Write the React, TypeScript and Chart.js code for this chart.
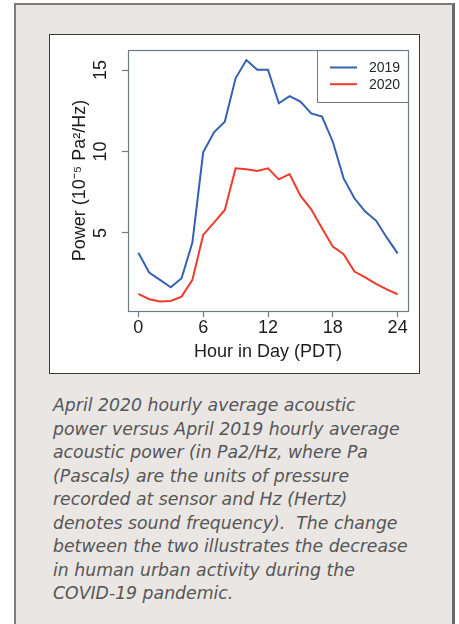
import React, { useEffect, useRef } from "react";
import { Chart, registerables } from "chart.js";

Chart.register(...registerables);

// ---- data ----
const hours = [0, 1, 2, 3, 4, 5, 6, 7, 8, 9, 10, 11, 12, 13, 14, 15, 16, 17, 18, 19, 20, 21, 22, 23, 24];
const power2019 = [3.79, 2.57, 2.12, 1.67, 2.22, 4.41, 9.95, 11.18, 11.83, 14.49, 15.61, 15.02, 15.02, 12.96, 13.4, 13.06, 12.34, 12.14, 10.6, 8.35, 7.13, 6.31, 5.76, 4.71, 3.75];
const power2020 = [1.26, 0.93, 0.79, 0.83, 1.09, 2.12, 4.88, 5.63, 6.41, 8.97, 8.91, 8.8, 8.97, 8.29, 8.62, 7.29, 6.45, 5.29, 4.16, 3.69, 2.63, 2.28, 1.87, 1.54, 1.24];
const seriesLabels = ["2019", "2020"];
const xTicks = [0, 6, 12, 18, 24];
const yTicks = [5, 10, 15];
const xTitle = "Hour in Day (PDT)";
const yTitle = "Power (10\u207B\u2075 Pa\u00B2/Hz)";
const captionLines = [
  "April 2020 hourly average acoustic",
  "power versus April 2019 hourly average",
  "acoustic power (in Pa2/Hz, where Pa",
  "(Pascals) are the units of pressure",
  "recorded at sensor and Hz (Hertz)",
  "denotes sound frequency).\u00A0 The change",
  "between the two illustrates the decrease",
  "in human urban activity during the",
  "COVID-19 pandemic.",
];

const BLUE = "#3461b3";
const RED = "#ef3b2c";
const BOX = "#6c7b84";
const TEXT = "#1c1c1c";
const FONT = '"Liberation Sans", Arial, Helvetica, sans-serif';

const boxPlugin = {
  id: "rBox",
  afterDraw(chart: any) {
    const { ctx, chartArea } = chart;
    ctx.save();
    // legend box (top-right, inside plot)
    const w = 91;
    const h = 52;
    const x0 = chartArea.right - w;
    const y0 = chartArea.top;
    ctx.fillStyle = "#ffffff";
    ctx.fillRect(x0, y0, w, h);
    ctx.strokeStyle = BOX;
    ctx.lineWidth = 1;
    ctx.strokeRect(x0 + 0.5, y0 + 0.5, w, h);
    chart.data.datasets.forEach((ds: any, i: number) => {
      const y = y0 + 17.5 + i * 16.7;
      ctx.strokeStyle = ds.borderColor;
      ctx.lineWidth = 2;
      ctx.beginPath();
      ctx.moveTo(x0 + 13, y);
      ctx.lineTo(x0 + 40, y);
      ctx.stroke();
      ctx.fillStyle = "#23292c";
      ctx.font = "14px " + FONT;
      ctx.textBaseline = "middle";
      ctx.textAlign = "left";
      ctx.fillText(ds.label, x0 + 52, y + 0.5);
    });
    // plot frame
    ctx.strokeStyle = BOX;
    ctx.lineWidth = 1.2;
    ctx.strokeRect(
      chartArea.left + 0.5,
      chartArea.top + 0.5,
      chartArea.right - chartArea.left,
      chartArea.bottom - chartArea.top
    );
    ctx.restore();
  },
};

function PowerChart() {
  const ref = useRef<HTMLCanvasElement | null>(null);
  useEffect(() => {
    if (!ref.current) return;
    Chart.defaults.font.family = FONT;
    const chart = new Chart(ref.current, {
      type: "line",
      data: {
        datasets: [
          {
            label: seriesLabels[0],
            data: hours.map((h, i) => ({ x: h, y: power2019[i] })),
            borderColor: BLUE,
            borderWidth: 2,
            pointRadius: 0,
            tension: 0,
            fill: false,
          },
          {
            label: seriesLabels[1],
            data: hours.map((h, i) => ({ x: h, y: power2020[i] })),
            borderColor: RED,
            borderWidth: 2,
            pointRadius: 0,
            tension: 0,
            fill: false,
          },
        ],
      },
      options: {
        animation: false,
        responsive: false,
        maintainAspectRatio: false,
        devicePixelRatio: 1,
        layout: { padding: { left: 0, right: 11, top: 15, bottom: 0 } },
        plugins: {
          legend: { display: false },
          tooltip: { enabled: false },
        },
        scales: {
          x: {
            type: "linear",
            min: -0.96,
            max: 24.96,
            afterBuildTicks: (s: any) => {
              s.ticks = xTicks.map((v) => ({ value: v }));
            },
            afterFit: (s: any) => {
              s.height = 62;
              s.paddingLeft = 0;
              s.paddingRight = 0;
            },
            grid: {
              drawOnChartArea: false,
              drawTicks: true,
              tickLength: 6,
              tickColor: BOX,
              tickWidth: 1.2,
            },
            border: { display: false },
            ticks: {
              color: TEXT,
              font: { size: 18 },
              padding: 0,
              maxRotation: 0,
              minRotation: 0,
              autoSkip: false,
            },
            title: {
              display: true,
              text: xTitle,
              color: TEXT,
              font: { size: 18 },
              padding: { top: 0, bottom: 9.7 },
            },
          },
          y: {
            type: "linear",
            min: 0.21,
            max: 16.23,
            afterBuildTicks: (s: any) => {
              s.ticks = yTicks.map((v) => ({ value: v }));
            },
            afterFit: (s: any) => {
              s.width = 78;
              s.paddingTop = 0;
              s.paddingBottom = 0;
            },
            grid: {
              drawOnChartArea: false,
              drawTicks: true,
              tickLength: 6,
              tickColor: BOX,
              tickWidth: 1.2,
            },
            border: { display: false },
            ticks: {
              color: TEXT,
              font: { size: 18 },
              padding: 11,
              minRotation: 90,
              maxRotation: 90,
              crossAlign: "center",
              autoSkip: false,
            },
            title: {
              display: true,
              text: yTitle,
              color: TEXT,
              font: { size: 18 },
              padding: { top: 19.2, bottom: 0 },
            },
          },
        },
      },
      plugins: [boxPlugin],
    } as any);
    return () => chart.destroy();
  }, []);
  return <canvas ref={ref} width={369} height={338} style={{ display: "block" }} />;
}

export default function App() {
  return (
    <div
      style={{
        position: "absolute",
        left: 0,
        top: 0,
        width: 459,
        height: 624,
        overflow: "hidden",
        background: "#ffffff",
      }}
    >
      <div
        style={{
          position: "absolute",
          left: 14,
          top: 3,
          width: 436,
          height: 700,
          background: "#e9e6e4",
          borderLeft: "2px solid #7c7c7c",
          borderTop: "2px solid #7c7c7c",
          borderRight: "3px solid #6a6a6a",
        }}
      />
      <div
        style={{
          position: "absolute",
          left: 49,
          top: 34,
          width: 369,
          height: 338,
          background: "#ffffff",
          border: "1px solid #3a3a3a",
        }}
      >
        <PowerChart />
      </div>
      <div
        style={{
          position: "absolute",
          left: 53,
          top: 394,
          fontFamily: '"DejaVu Sans", Verdana, sans-serif',
          fontStyle: "italic",
          fontSize: 17.3,
          lineHeight: "23.5px",
          color: "#565656",
          whiteSpace: "nowrap",
        }}
      >
        {captionLines.map((l, i) => (
          <div key={i}>{l}</div>
        ))}
      </div>
    </div>
  );
}
